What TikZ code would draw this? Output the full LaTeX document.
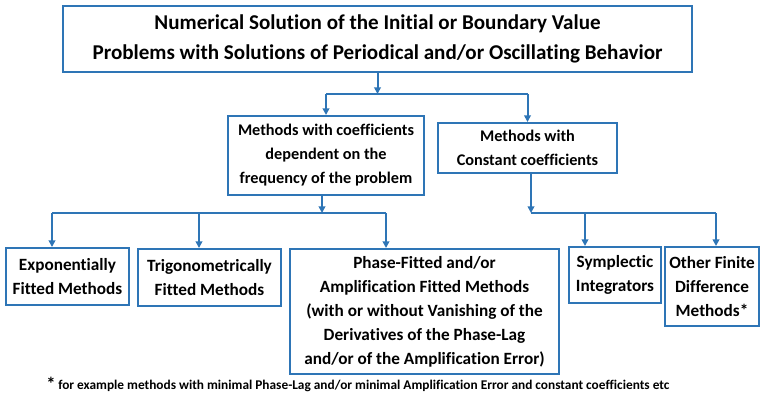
\documentclass[tikz,border=0pt]{standalone}
\usepackage{fontspec}
\setmainfont{Carlito}[Ligatures=NoCommon]
\usetikzlibrary{arrows.meta}
\definecolor{lineblue}{HTML}{2E75B6}
\tikzset{
  box/.style={draw=lineblue, line width=1.5pt, rectangle, inner sep=0pt, align=center,
    font=\bfseries\fontsize{12.9}{18}\selectfont},
  midbox/.style={box, font=\bfseries\fontsize{12.2}{18}\selectfont},
  conn/.style={draw=lineblue, line width=1.5pt},
  arr/.style={conn, -{Triangle[length=5pt,width=5pt]}},
}
\begin{document}
\begin{tikzpicture}[x=0.75pt,y=-0.75pt]
\useasboundingbox (0,0) rectangle (760,393);
\node[box, minimum width=471.75pt, minimum height=49.5pt, font=\bfseries\fontsize{15.8}{22.5}\selectfont] (top) at (377.5,39)
  {Numerical Solution of the Initial or Boundary Value\\Problems with Solutions of Periodical and/or Oscillating Behavior};
\node[midbox, minimum width=147pt, minimum height=59.25pt] (ML) at (326,155.5)
  {Methods with coefficients\\dependent on the\\frequency of the problem};
\node[midbox, minimum width=134.25pt, minimum height=37.5pt] (MR) at (527.5,148)
  {Methods with\\Constant coefficients};
\node[box, minimum width=92.25pt, minimum height=42.75pt] (B1) at (67.5,276.5)
  {Exponentially\\Fitted Methods};
\node[box, minimum width=107.25pt, minimum height=42.75pt] (B2) at (209.5,277.5)
  {Trigonometrically\\Fitted Methods};
\node[box, minimum width=201.75pt, minimum height=93.75pt] (B3) at (424.5,311.5)
  {Phase-Fitted and/or\\Amplification Fitted Methods\\(with or without Vanishing of the\\Derivatives of the Phase-Lag\\and/or of the Amplification Error)};
\node[box, minimum width=69pt, minimum height=42pt] (B4) at (615,275)
  {Symplectic\\Integrators};
\node[box, minimum width=70.5pt, minimum height=59.25pt] (B5) at (712,286.5)
  {Other Finite\\Difference\\Methods*};
% top connectors
\coordinate (j1) at (377.5,94);
\coordinate (j1l) at (ML.north |- j1);
\coordinate (j1r) at (MR.north |- j1);
\draw[arr] (top.south) -- (j1);
\draw[conn] (j1l) -- (j1r);
\draw[arr] (j1l) -- (ML.north);
\draw[arr] (j1r) -- (MR.north);
% left group
\coordinate (j2) at (322,213);
\coordinate (j2a) at (52,213);
\coordinate (j2b) at (199,213);
\coordinate (j2c) at (386,213);
\draw[arr] (ML.south -| j2) -- (j2);
\draw[conn] (j2a) -- (j2c);
\draw[arr] (j2a) -- (j2a |- B1.north);
\draw[arr] (j2b) -- (j2b |- B2.north);
\draw[arr] (j2c) -- (j2c |- B3.north);
% right group
\coordinate (j3) at (531,213);
\coordinate (j3a) at (585,213);
\coordinate (j3b) at (716,213);
\draw[arr] (MR.south -| j3) -- (j3);
\draw[conn] (j3) -- (j3b);
\draw[arr] (j3a) -- (j3a |- B4.north);
\draw[arr] (j3b) -- (j3b |- B5.north);
% footnote
\node[anchor=base west, inner sep=0pt, font=\bfseries\fontsize{14}{14}\selectfont] (star) at (46,390) {*};
\node[anchor=base west, inner sep=0pt, font=\bfseries\fontsize{10}{12}\selectfont] (fn) at (58,389)
  {for example methods with minimal Phase-Lag and/or minimal Amplification Error and constant coefficients etc};
\end{tikzpicture}
\end{document}
